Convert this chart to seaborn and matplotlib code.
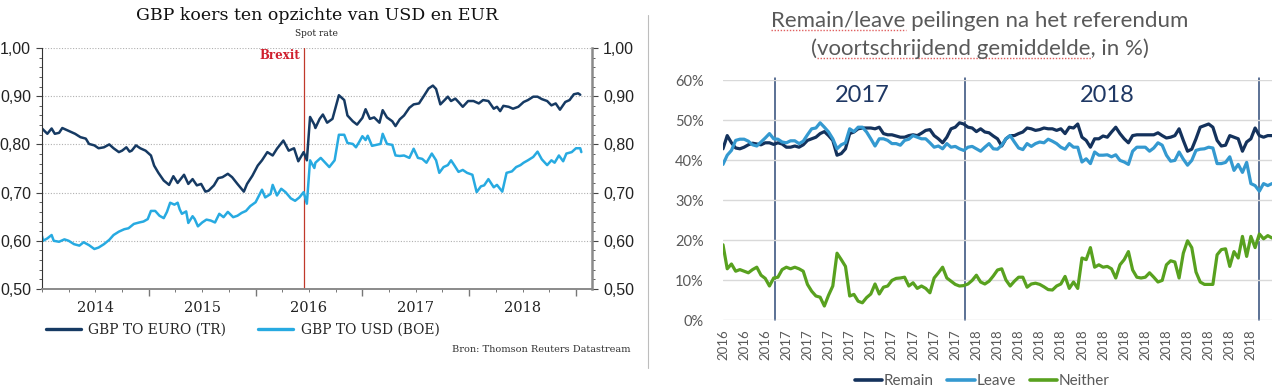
import numpy as np
import pandas as pd
import matplotlib
matplotlib.use("Agg")
import matplotlib.pyplot as plt
from matplotlib.lines import Line2D
from matplotlib.font_manager import FontProperties
from matplotlib.ticker import FuncFormatter, MultipleLocator
import seaborn as sns

# ---- left panel: GBP spot rates (decimal year, rate) ----
eur_years = [2014.00, 2014.05, 2014.09, 2014.12, 2014.16, 2014.19, 2014.22, 2014.27, 2014.31, 2014.36,
             2014.41, 2014.44, 2014.49, 2014.53, 2014.58, 2014.63, 2014.67, 2014.72, 2014.75, 2014.79,
             2014.82, 2014.84, 2014.88, 2014.92, 2014.97, 2015.02, 2015.05, 2015.09, 2015.14, 2015.19,
             2015.23, 2015.27, 2015.33, 2015.37, 2015.41, 2015.45, 2015.49, 2015.53, 2015.56, 2015.61,
             2015.65, 2015.69, 2015.74, 2015.78, 2015.83, 2015.89, 2015.92, 2015.97, 2016.02, 2016.06,
             2016.11, 2016.16, 2016.20, 2016.26, 2016.31, 2016.36, 2016.40, 2016.45, 2016.48, 2016.51,
             2016.55, 2016.56, 2016.60, 2016.63, 2016.67, 2016.72, 2016.78, 2016.83, 2016.86, 2016.91,
             2016.95, 2017.00, 2017.03, 2017.07, 2017.11, 2017.16, 2017.19, 2017.23, 2017.28, 2017.31,
             2017.35, 2017.39, 2017.44, 2017.48, 2017.53, 2017.58, 2017.62, 2017.66, 2017.69, 2017.73,
             2017.77, 2017.80, 2017.83, 2017.87, 2017.90, 2017.94, 2017.99, 2018.04, 2018.09, 2018.13,
             2018.18, 2018.23, 2018.26, 2018.29, 2018.32, 2018.37, 2018.41, 2018.46, 2018.51, 2018.55,
             2018.60, 2018.64, 2018.68, 2018.73, 2018.77, 2018.81, 2018.85, 2018.90, 2018.94, 2018.98,
             2019.02, 2019.04]
eur_rate = [0.833, 0.822, 0.833, 0.822, 0.824, 0.834, 0.831, 0.826, 0.822, 0.815,
            0.812, 0.801, 0.798, 0.792, 0.794, 0.800, 0.792, 0.784, 0.787, 0.794,
            0.785, 0.787, 0.798, 0.792, 0.787, 0.777, 0.756, 0.741, 0.725, 0.716,
            0.734, 0.720, 0.737, 0.718, 0.728, 0.715, 0.718, 0.702, 0.704, 0.715,
            0.730, 0.732, 0.739, 0.732, 0.718, 0.702, 0.718, 0.735, 0.756, 0.767,
            0.784, 0.777, 0.791, 0.808, 0.787, 0.792, 0.765, 0.784, 0.767, 0.857,
            0.841, 0.834, 0.853, 0.862, 0.845, 0.853, 0.902, 0.892, 0.860, 0.848,
            0.841, 0.855, 0.873, 0.853, 0.856, 0.845, 0.871, 0.856, 0.848, 0.838,
            0.852, 0.860, 0.876, 0.883, 0.885, 0.902, 0.916, 0.922, 0.915, 0.883,
            0.892, 0.899, 0.890, 0.895, 0.888, 0.878, 0.890, 0.890, 0.885, 0.892,
            0.890, 0.874, 0.878, 0.869, 0.880, 0.878, 0.874, 0.878, 0.888, 0.892,
            0.899, 0.899, 0.894, 0.890, 0.881, 0.885, 0.872, 0.888, 0.892, 0.904,
            0.906, 0.903]

usd_years = [2014.00, 2014.01, 2014.05, 2014.09, 2014.11, 2014.16, 2014.21, 2014.25, 2014.30, 2014.35,
             2014.39, 2014.44, 2014.49, 2014.53, 2014.58, 2014.63, 2014.67, 2014.72, 2014.77, 2014.81,
             2014.86, 2014.91, 2014.95, 2014.99, 2015.02, 2015.06, 2015.10, 2015.14, 2015.17, 2015.20,
             2015.24, 2015.27, 2015.29, 2015.31, 2015.35, 2015.37, 2015.41, 2015.43, 2015.46, 2015.50,
             2015.54, 2015.58, 2015.62, 2015.66, 2015.70, 2015.74, 2015.79, 2015.83, 2015.87, 2015.91,
             2015.95, 2016.00, 2016.06, 2016.09, 2016.14, 2016.16, 2016.20, 2016.24, 2016.28, 2016.33,
             2016.37, 2016.41, 2016.45, 2016.48, 2016.51, 2016.55, 2016.56, 2016.61, 2016.66, 2016.69,
             2016.74, 2016.78, 2016.83, 2016.86, 2016.91, 2016.94, 2016.97, 2017.00, 2017.03, 2017.05,
             2017.09, 2017.13, 2017.17, 2017.19, 2017.23, 2017.28, 2017.31, 2017.35, 2017.39, 2017.44,
             2017.48, 2017.52, 2017.56, 2017.60, 2017.65, 2017.69, 2017.72, 2017.76, 2017.80, 2017.83,
             2017.86, 2017.90, 2017.94, 2017.98, 2018.03, 2018.07, 2018.11, 2018.14, 2018.18, 2018.23,
             2018.26, 2018.31, 2018.35, 2018.40, 2018.44, 2018.48, 2018.51, 2018.55, 2018.60, 2018.64,
             2018.68, 2018.73, 2018.77, 2018.80, 2018.84, 2018.88, 2018.91, 2018.96, 2019.00, 2019.04,
             2019.05]
usd_rate = [0.610, 0.600, 0.605, 0.612, 0.600, 0.598, 0.603, 0.600, 0.593, 0.590,
            0.597, 0.591, 0.583, 0.586, 0.593, 0.602, 0.612, 0.619, 0.624, 0.626,
            0.635, 0.638, 0.640, 0.645, 0.662, 0.662, 0.652, 0.647, 0.660, 0.679,
            0.675, 0.679, 0.665, 0.656, 0.661, 0.637, 0.651, 0.645, 0.630, 0.638,
            0.644, 0.642, 0.638, 0.656, 0.649, 0.660, 0.649, 0.652, 0.658, 0.662,
            0.672, 0.680, 0.706, 0.690, 0.697, 0.716, 0.694, 0.708, 0.701, 0.688,
            0.683, 0.690, 0.701, 0.677, 0.767, 0.751, 0.762, 0.772, 0.760, 0.753,
            0.767, 0.820, 0.820, 0.803, 0.801, 0.794, 0.805, 0.817, 0.809, 0.818,
            0.797, 0.799, 0.801, 0.822, 0.801, 0.799, 0.777, 0.776, 0.777, 0.772,
            0.791, 0.772, 0.770, 0.762, 0.781, 0.767, 0.741, 0.753, 0.757, 0.767,
            0.757, 0.743, 0.747, 0.741, 0.737, 0.701, 0.713, 0.715, 0.728, 0.711,
            0.716, 0.702, 0.741, 0.744, 0.753, 0.757, 0.762, 0.767, 0.774, 0.785,
            0.769, 0.757, 0.767, 0.762, 0.777, 0.765, 0.781, 0.784, 0.792, 0.792,
            0.784]
brexit_year = 2016.45

# ---- right panel: polls (moving average, %) ----
remain = [42.8, 46.1, 44.3, 43.0, 42.8, 43.2, 43.8, 44.2, 44.0, 43.8, 44.3, 44.3, 43.9, 44.3, 44.0,
          43.2, 43.2, 43.5, 43.2, 43.8, 44.9, 45.3, 45.7, 46.6, 47.1, 46.1, 44.9, 41.2, 41.6, 42.8,
          46.6, 47.0, 47.8, 48.0, 48.0, 48.0, 47.8, 48.2, 46.6, 46.3, 46.3, 46.0, 45.7, 45.7, 46.1,
          46.3, 46.1, 46.7, 47.4, 47.6, 46.1, 45.3, 44.3, 45.7, 47.8, 48.2, 49.3, 49.0, 48.2, 48.0,
          47.1, 47.8, 47.0, 46.8, 46.0, 45.3, 43.5, 45.3, 46.1, 46.1, 46.6, 47.0, 48.0, 47.8, 47.4,
          47.6, 48.0, 47.8, 47.8, 47.4, 47.8, 46.6, 48.2, 48.0, 49.0, 45.7, 44.9, 43.2, 45.3, 45.3,
          46.0, 45.7, 47.0, 48.2, 46.6, 45.3, 44.3, 46.1, 46.3, 46.3, 46.3, 46.3, 46.3, 46.8, 46.1,
          45.5, 45.7, 46.1, 47.8, 44.9, 42.2, 42.7, 45.3, 48.2, 48.6, 49.0, 48.2, 44.9, 43.5, 43.7,
          46.1, 45.7, 45.3, 42.2, 44.5, 45.3, 48.0, 46.1, 45.7, 46.1, 46.1]
leave = [38.9, 41.2, 42.4, 44.9, 45.2, 45.2, 44.7, 43.8, 43.5, 44.5, 45.5, 46.6, 45.3, 45.2, 44.5,
         44.3, 44.8, 44.8, 44.1, 44.7, 46.3, 47.8, 48.0, 49.3, 48.2, 47.0, 45.3, 42.8, 43.8, 44.3,
         47.8, 47.1, 48.2, 48.2, 47.0, 45.3, 43.5, 45.3, 45.3, 44.9, 44.1, 44.1, 43.7, 44.9, 45.2,
         46.1, 45.7, 45.3, 45.3, 44.3, 43.2, 43.5, 42.8, 44.1, 43.2, 43.4, 42.8, 42.4, 43.2, 43.4,
         42.8, 42.2, 43.2, 44.1, 42.8, 42.7, 43.7, 45.3, 46.1, 44.5, 43.0, 42.6, 44.1, 43.4, 44.1,
         44.5, 44.3, 45.2, 44.7, 44.1, 43.2, 42.7, 44.1, 43.2, 43.2, 39.5, 40.3, 39.1, 42.0, 41.2,
         41.2, 41.3, 40.8, 41.3, 39.9, 39.5, 38.9, 42.2, 43.2, 43.2, 43.2, 42.2, 43.0, 44.3, 43.7,
         41.2, 39.7, 39.9, 42.0, 40.2, 38.7, 39.9, 42.4, 42.7, 42.8, 43.2, 43.0, 39.1, 39.1, 39.4,
         40.8, 37.4, 38.9, 36.9, 39.4, 34.1, 33.6, 32.2, 34.1, 33.6, 34.1]
neither = [18.8, 12.8, 14.0, 12.2, 12.6, 12.2, 11.8, 12.6, 13.2, 11.2, 10.4, 8.5, 10.5, 10.7, 12.6,
           13.2, 12.8, 13.2, 12.8, 12.2, 8.9, 7.2, 6.0, 5.7, 3.5, 6.2, 8.5, 16.7, 15.1, 13.4,
           6.0, 6.4, 4.7, 4.3, 5.6, 6.5, 9.0, 6.5, 8.2, 8.5, 9.9, 10.4, 10.5, 10.7, 8.5,
           9.3, 7.9, 8.5, 7.9, 6.8, 10.5, 11.8, 13.2, 10.5, 9.7, 8.9, 8.5, 8.6, 9.0, 9.9,
           11.2, 9.5, 9.0, 9.7, 11.0, 12.5, 12.8, 10.0, 8.5, 9.7, 10.7, 10.7, 8.2, 9.0, 9.2,
           8.9, 8.3, 7.6, 7.5, 8.5, 9.0, 10.9, 7.9, 9.5, 7.9, 15.5, 15.1, 18.1, 13.2, 13.8,
           13.2, 13.4, 12.8, 10.5, 13.8, 15.1, 17.1, 12.5, 10.7, 10.5, 10.7, 11.8, 10.7, 9.5, 9.9,
           13.8, 14.8, 14.5, 10.5, 16.7, 19.8, 18.1, 12.0, 9.5, 8.9, 8.9, 8.9, 16.3, 17.6, 17.8,
           13.4, 17.1, 15.5, 20.9, 15.9, 20.9, 18.1, 21.5, 20.3, 21.1, 20.5]
poll_labels = ["2016"] * 3 + ["2017"] * 9 + ["2018"] * 14
year_breaks = [12.4, 57.2, 126.9]

# colours
c_eur, c_usd = "#163a63", "#27aae1"
c_remain, c_leave, c_neither = "#14325c", "#3499d0", "#58a11f"
grey_txt = "#595959"

sns.set_theme(style="white")
fig = plt.figure(figsize=(12.8, 3.92), dpi=100)
W, H = 1280, 392
ax1 = fig.add_axes([42 / W, 1 - 289 / H, 550 / W, 241 / H])
ax2 = fig.add_axes([723 / W, 1 - 320 / H, 549 / W, 240 / H])

# ---------- left chart ----------
fx = pd.concat([
    pd.DataFrame({"jaar": eur_years, "koers": eur_rate, "reeks": "GBP TO EURO (TR)"}),
    pd.DataFrame({"jaar": usd_years, "koers": usd_rate, "reeks": "GBP TO USD (BOE)"}),
])
sns.lineplot(data=fx, x="jaar", y="koers", hue="reeks", palette=[c_eur, c_usd],
             estimator=None, sort=False, lw=1.8, ax=ax1, legend=False)
ax1.set_xlim(2014.0, 2019.15)
ax1.set_ylim(0.5, 1.0)
ax1.set_xlabel("")
ax1.set_ylabel("")
ax1.set_yticks(np.arange(0.5, 1.001, 0.1))
ax1.yaxis.set_minor_locator(MultipleLocator(0.02))
ax1.yaxis.set_major_formatter(FuncFormatter(lambda v, p: f"{v:.2f}".replace(".", ",")))
ax1.tick_params(axis="y", which="both", direction="out", left=True, right=True,
                labelleft=True, labelright=True, colors="#444444", labelcolor="#222222",
                labelsize=11.5, pad=4)
ax1.tick_params(axis="y", which="major", length=4, width=0.8)
ax1.tick_params(axis="y", which="minor", length=2.5, width=0.6)
for lab in ax1.get_yticklabels():
    lab.set_family("Liberation Sans")
ax1.set_xticks([2015, 2016, 2017, 2018, 2019])
ax1.xaxis.set_minor_locator(MultipleLocator(0.25))
ax1.tick_params(axis="x", which="both", direction="out", bottom=True, labelbottom=False,
                colors="#777777")
ax1.tick_params(axis="x", which="major", length=5, width=1)
ax1.tick_params(axis="x", which="minor", length=2.5, width=0.7)
for yr in range(2014, 2019):
    ax1.text(yr + 0.5, -0.078, str(yr), transform=ax1.get_xaxis_transform(),
             ha="center", va="center", fontsize=10.5, family="DejaVu Serif", color="#222222")
ax1.yaxis.grid(True, ls=(0, (1, 1.5)), color="#b0b0b0", lw=0.8)
ax1.xaxis.grid(False)
ax1.spines["top"].set_visible(False)
ax1.spines["left"].set_color("#333333")
ax1.spines["left"].set_linewidth(0.8)
ax1.spines["right"].set_color("#8a8a8a")
ax1.spines["right"].set_linewidth(1.8)
ax1.spines["bottom"].set_color("#8a8a8a")
ax1.spines["bottom"].set_linewidth(1.4)

ax1.axvline(brexit_year, color="#c0392b", lw=0.9, zorder=1)
ax1.text(brexit_year - 0.03, 0.985, "Brexit", color="#d0202e", ha="right", va="center",
         fontsize=8.5, fontweight="bold", family="DejaVu Serif")

fig.text(317 / W, 1 - 15 / H, "GBP koers ten opzichte van USD en EUR", ha="center", va="center",
         fontsize=12.5, family="DejaVu Serif", color="#111111")
fig.text(316 / W, 1 - 33 / H, "Spot rate", ha="center", va="center", fontsize=6.5,
         family="DejaVu Serif", color="#222222")
fig.legend(handles=[Line2D([], [], color=c_eur, lw=2.4), Line2D([], [], color=c_usd, lw=2.4)],
           labels=["GBP TO EURO (TR)", "GBP TO USD (BOE)"], loc="center left",
           bbox_to_anchor=(46 / W, 1 - 330 / H), ncol=2, frameon=False,
           prop={"family": "DejaVu Serif", "size": 10}, handlelength=2.5,
           handletextpad=0.55, columnspacing=2.3, borderaxespad=0, borderpad=0)
fig.text(630 / W, 1 - 350 / H, "Bron: Thomson Reuters Datastream", ha="right", va="center",
         fontsize=7, family="DejaVu Serif", color="#333333")

# ---------- right chart ----------
n = len(remain)
polls = pd.concat([
    pd.DataFrame({"punt": np.arange(n), "pct": remain, "reeks": "Remain"}),
    pd.DataFrame({"punt": np.arange(n), "pct": leave, "reeks": "Leave"}),
    pd.DataFrame({"punt": np.arange(n), "pct": neither, "reeks": "Neither"}),
])
sns.lineplot(data=polls, x="punt", y="pct", hue="reeks", palette=[c_remain, c_leave, c_neither],
             estimator=None, lw=2.3, ax=ax2, legend=False)
ax2.set_xlim(0, n - 1)
ax2.set_ylim(0, 60)
ax2.set_xlabel("")
ax2.set_ylabel("")
ax2.set_yticks(np.arange(0, 61, 10))
ax2.yaxis.set_major_formatter(FuncFormatter(lambda v, p: f"{v:.0f}%"))
ax2.set_xticks(np.arange(len(poll_labels)) * 5)
ax2.set_xticklabels(poll_labels, rotation=90)
ax2.tick_params(axis="both", length=0, colors=grey_txt)
ax2.tick_params(axis="y", labelsize=10.5, pad=14)
ax2.tick_params(axis="x", labelsize=9.5, pad=7)
for lab in ax2.get_xticklabels() + ax2.get_yticklabels():
    lab.set_family("Lato")
ax2.yaxis.grid(True, color="#d9d9d9", lw=1)
ax2.xaxis.grid(False)
for s in ax2.spines.values():
    s.set_visible(False)
for xb in year_breaks:
    ax2.axvline(xb, color="#2f4a78", lw=1.1, ymax=1.01, clip_on=False, zorder=0.5)
ax2.text(33, 56, "2017", ha="center", va="center", fontsize=17, family="Lato", color="#1f3864")
ax2.text(91, 56, "2018", ha="center", va="center", fontsize=17, family="Lato", color="#1f3864")

# right title, with the spell-check marks under two phrases
title_fp = FontProperties(family="Lato", size=16)
title_lines = [("Remain/leave peilingen na het referendum", "Remain/leave", 27),
               ("(voortschrijdend gemiddelde, in %)", "(voortschrijdend gemiddelde", 55)]
renderer = fig.canvas.get_renderer()
for line, marked, base in title_lines:
    fig.text(980 / W, 1 - base / H, line, ha="center", va="baseline",
             fontproperties=title_fp, color=grey_txt)
    full_w = renderer.get_text_width_height_descent(line, title_fp, ismath=False)[0]
    x0 = 980 - full_w / 2
    if marked.startswith("("):
        x0 += renderer.get_text_width_height_descent("(", title_fp, ismath=False)[0]
        marked = marked[1:]
    mark_w = renderer.get_text_width_height_descent(marked, title_fp, ismath=False)[0]
    yb = 1 - (base + 3) / H
    fig.add_artist(Line2D([x0 / W, (x0 + mark_w) / W], [yb, yb], color="#e06060",
                          lw=1.0, ls=(0, (1, 1.2)), transform=fig.transFigure))

fig.legend(handles=[Line2D([], [], color=c, lw=2.6) for c in (c_remain, c_leave, c_neither)],
           labels=["Remain", "Leave", "Neither"], loc="center",
           bbox_to_anchor=(982 / W, 1 - 381 / H), ncol=3, frameon=False,
           prop={"family": "Lato", "size": 11}, labelcolor=grey_txt, handlelength=1.8,
           handletextpad=0.1, columnspacing=0.9, borderaxespad=0, borderpad=0)

# divider between the two charts
fig.add_artist(Line2D([648 / W, 648 / W], [1 - 15 / H, 1 - 368 / H], color="#bdbdbd",
                      lw=0.8, transform=fig.transFigure))

fig.savefig("out.png", dpi=100)
